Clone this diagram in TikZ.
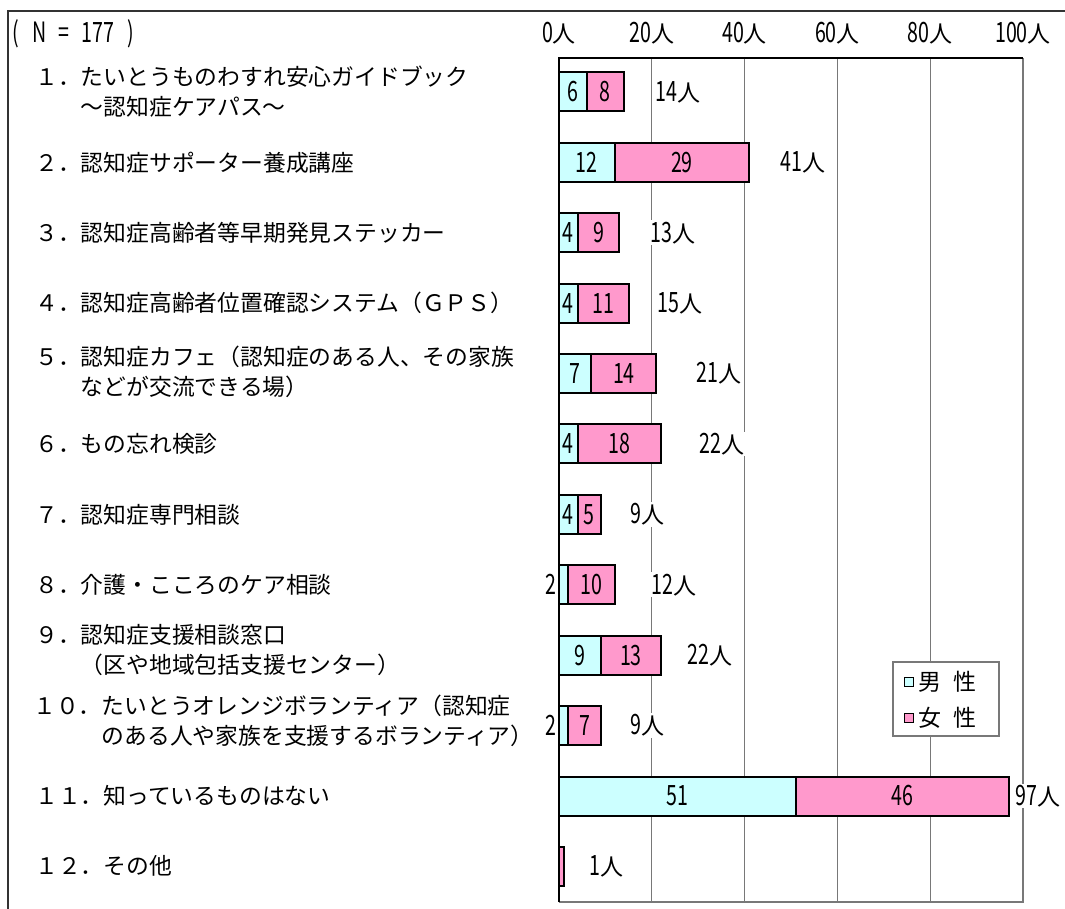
\documentclass[tikz,border=0pt]{standalone}
\usepackage{fontspec}
\setmainfont{Noto Sans CJK JP}
\newfontfamily\numfont{Noto Sans CJK JP}[FakeStretch=0.7]
\usetikzlibrary{positioning, calc}
\definecolor{malecyan}{RGB}{204, 255, 255}
\definecolor{femalepink}{RGB}{255, 153, 204}
\definecolor{gridgray}{RGB}{120, 120, 120}

\tikzset{
  itemlabel/.style={anchor=west, align=left, inner sep=0pt, font=\fontsize{17.1}{22.5}\selectfont},
  numlabel/.style={inner sep=1pt, font=\numfont\fontsize{21}{22}\selectfont},
  totlabel/.style={anchor=west, fill=white, inner sep=1pt, font=\fontsize{17.25}{20}\selectfont},
  malebar/.style={draw=black, line width=1.5pt, fill=malecyan},
  femalebar/.style={draw=black, line width=1.5pt, fill=femalepink},
  legendmark/.style={draw=black, line width=1.2pt, minimum size=7pt, inner sep=0pt},
}
\newcommand{\numtxt}[1]{{\numfont\fontsize{21}{22}\selectfont #1}}

\begin{document}
\begin{tikzpicture}[x=0.75pt, y=-0.75pt]
  \useasboundingbox (0, 0) rectangle (1065, 909);

  % outer frame (left and top only visible)
  \draw[black!80, line width=0.8pt] (8, 909) -- (8, 11) -- (1065, 11);

  \node[numlabel, anchor=west] (nsize) at (11, 34)
    {(\hspace{10pt}N\hspace{9pt}=\hspace{9pt}177\hspace{10pt})};

  % grid and scale
  \foreach \v in {20, 40, 60, 80}
    \draw[gridgray, line width=0.8pt] (559+\v*4.64, 58) -- (559+\v*4.64, 902);
  \draw[gridgray, line width=0.8pt] (559, 902) -- (1023, 902) -- (1023, 58);
  \draw[black, line width=0.8pt] (559, 902) -- (559, 58) -- (1023, 58);
  \foreach \v in {0, 20, 40, 60, 80, 100}
    \node[totlabel, anchor=center, fill=none] (ax\v) at (559+\v*4.64, 33) {\numtxt{\v}人};

  % items
  \node[itemlabel] (item1) at (35, 92) {１．たいとうものわすれ安心ガイドブック\\\hphantom{１．}～認知症ケアパス～};
  \node[itemlabel] (item2) at (35, 162.4) {２．認知症サポーター養成講座};
  \node[itemlabel] (item3) at (35, 232.8) {３．認知症高齢者等早期発見ステッカー};
  \node[itemlabel] (item4) at (35, 303.2) {４．認知症高齢者位置確認システム（ＧＰＳ）};
  \node[itemlabel] (item5) at (35, 372) {５．認知症カフェ（認知症のある人、その家族\\\hphantom{５．}などが交流できる場）};
  \node[itemlabel] (item6) at (35, 444) {６．もの忘れ検診};
  \node[itemlabel] (item7) at (35, 514.4) {７．認知症専門相談};
  \node[itemlabel] (item8) at (35, 584.8) {８．介護・こころのケア相談};
  \node[itemlabel] (item9) at (35, 650) {９．認知症支援相談窓口\\\hphantom{９．}（区や地域包括支援センター）};
  \node[itemlabel] (item10) at (33, 721) {１０．たいとうオレンジボランティア（認知症\\\hphantom{１０．}のある人や家族を支援するボランティア）};
  \node[itemlabel] (item11) at (35, 796) {１１．知っているものはない};
  \node[itemlabel] (item12) at (35, 866) {１２．その他};

  % bars: row / male / female / total / x of total label
  \foreach \i/\m/\f/\t/\tx in {1/6/8/14/654, 2/12/29/41/779, 3/4/9/13/649, 4/4/11/15/656,
      5/7/14/21/695, 6/4/18/22/698, 7/4/5/9/629, 8/2/10/12/650, 9/9/13/22/686,
      10/2/7/9/629, 11/51/46/97/1014, 12/0/1/1/588} {
    \pgfmathsetmacro\yc{92+(\i-1)*70.4}
    \ifnum\m>0
      \draw[malebar] (559, \yc-19.5) rectangle (559+\m*4.64, \yc+19.5);
    \fi
    \draw[femalebar] (559+\m*4.64, \yc-19.5) rectangle (559+\m*4.64+\f*4.64, \yc+19.5);
    \ifnum\m>2
      \node[numlabel] (m\i) at (559+\m*2.32, \yc) {\m};
    \else\ifnum\m>0
      \node[numlabel, anchor=east, inner sep=0pt] (m\i) at (556.5, \yc) {\m};
    \fi\fi
    \ifnum\f>1
      \node[numlabel] (f\i) at (559+\m*4.64+\f*2.32, \yc) {\f};
    \fi
    \node[totlabel] (t\i) at (\tx, \yc) {\numtxt{\t}人};
  }

  % legend
  \node[draw=gridgray, fill=white, line width=0.8pt, minimum width=106*0.75pt,
    minimum height=74*0.75pt, inner sep=0pt] (legend) at (946, 699) {};
  \node[legendmark, fill=malecyan] (mkmale) at (909, 682) {};
  \node[legendmark, fill=femalepink] (mkfemale) at (909, 718) {};
  \node[totlabel, fill=none, right=2pt of mkmale] (lgmale) {男\hspace{0.5em}性};
  \node[totlabel, fill=none, right=2pt of mkfemale] (lgfemale) {女\hspace{0.5em}性};
\end{tikzpicture}
\end{document}
